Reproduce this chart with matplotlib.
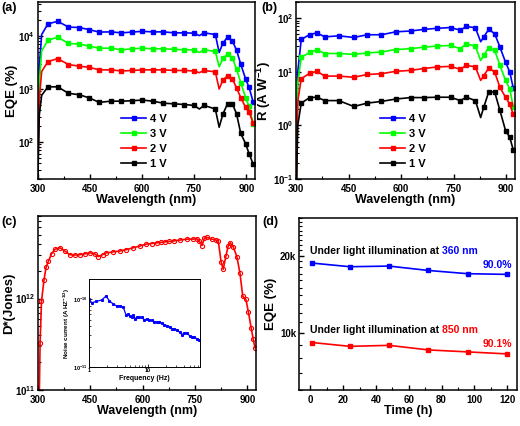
import matplotlib
matplotlib.use("Agg")
import matplotlib.pyplot as plt
from matplotlib.ticker import FixedLocator, NullFormatter, LogLocator, FixedFormatter

plt.rcParams['font.family'] = ['Liberation Sans', 'DejaVu Sans']
plt.rcParams['font.weight'] = 'bold'
plt.rcParams['axes.labelweight'] = 'bold'
plt.rcParams['mathtext.fontset'] = 'custom'
plt.rcParams['mathtext.rm'] = 'Liberation Sans:bold'
plt.rcParams['mathtext.bf'] = 'Liberation Sans:bold'
plt.rcParams['mathtext.it'] = 'Liberation Sans:bold:italic'
plt.rcParams['mathtext.default'] = 'bf'
plt.rcParams['axes.linewidth'] = 1.1
plt.rcParams['xtick.direction'] = 'in'
plt.rcParams['ytick.direction'] = 'in'

# (a) EQE vs wavelength
wl_a = [300, 305, 312, 330, 358, 389, 420, 449, 477, 511, 541, 572, 601, 631, 662,
        693, 722, 750, 765, 779, 811, 822, 833, 846, 860, 872, 884, 898, 908, 920]
eqe_4v = [10, 2570, 10700, 17000, 19000, 14800, 14500, 13200, 11900, 12000, 11500, 11900, 12300, 12000, 12000,
          11500, 11500, 11350, 10200, 11500, 10700, 4900, 7400, 9550, 8100, 5400, 2950, 1550, 1070, 560]
eqe_3v = [10, 1260, 5250, 8300, 9550, 7250, 7080, 6450, 5900, 5900, 5500, 5750, 5900, 5750, 5750,
          5620, 5500, 5500, 4900, 5500, 5130, 2630, 3800, 4570, 3890, 2370, 1320, 690, 470, 215]
eqe_2v = [10, 630, 2140, 3300, 3750, 2900, 2700, 2570, 2300, 2300, 2190, 2240, 2300, 2300, 2300,
          2240, 2240, 2190, 2040, 2240, 2110, 1000, 1480, 1780, 1550, 1050, 690, 450, 365, 225]
eqe_1v = [10, 316, 760, 1100, 1100, 830, 780, 680, 560, 590, 590, 600, 620, 590, 540,
          525, 510, 490, 420, 490, 420, 190, 340, 525, 525, 340, 145, 93, 60, 38]

# (b) responsivity vs wavelength
wl_b = [300, 305, 315, 339, 360, 382, 422, 465, 503, 544, 585, 627, 665, 703, 741,
        769, 786, 812, 827, 836, 850, 867, 882, 898, 910, 920]
r_4v = [0.03, 10, 40, 49.5, 53, 44.7, 46.8, 43.6, 49, 49, 55.6, 57.5, 61.7, 64.6, 66.8,
        59.6, 70, 66, 36.3, 44.7, 61.7, 51.3, 28.8, 15.1, 9.9, 5.0]
r_3v = [0.03, 6.3, 18.6, 22.9, 25.7, 21.9, 21.9, 21.1, 22.4, 23.4, 26, 26.9, 28.8, 30.2, 30.9,
        26.9, 33.5, 29.9, 16.2, 20.4, 28.2, 25.1, 13.2, 6.9, 4.8, 2.2]
r_2v = [0.03, 2.8, 7.4, 9.4, 10.2, 8.3, 8.3, 7.9, 8.9, 9.2, 10.2, 10.6, 11.5, 12.3, 12.6,
        11.1, 13.2, 12.3, 6.9, 8.5, 11.7, 9.9, 5.1, 3.35, 2.5, 1.6]
r_1v = [0.03, 1.0, 2.6, 3.3, 3.35, 2.9, 2.9, 2.25, 2.6, 2.8, 3.1, 3.3, 3.3, 3.35, 3.35,
        2.9, 3.35, 2.9, 1.4, 2.2, 4.2, 4.2, 1.9, 0.8, 0.6, 0.35]

# (c) detectivity
wl_c = [300, 306, 310, 317, 323, 330, 339, 349, 363, 377, 391, 405, 420, 435, 449, 462, 473, 485,
        496, 515, 534, 553, 573, 592, 611, 626, 641, 653, 665, 677, 689, 708, 727, 745, 755, 762,
        770, 777, 784, 798, 810, 817, 825, 831, 839, 845, 851, 860, 870, 879, 887, 896, 903, 911,
        917, 922]
dstar = [1e10, 3.3e11, 9.3e11, 1.58e12, 2.19e12, 2.57e12, 3.09e12, 3.47e12, 3.59e12, 3.31e12, 3.02e12,
         2.99e12, 3.02e12, 3.09e12, 3.16e12, 3.09e12, 2.88e12, 3.02e12, 3.16e12, 3.24e12, 3.31e12,
         3.43e12, 3.59e12, 3.76e12, 3.94e12, 4.0e12, 4.07e12, 4.12e12, 4.17e12, 4.22e12, 4.27e12,
         4.37e12, 4.47e12, 4.47e12, 4.52e12, 4.27e12, 3.8e12, 4.57e12, 4.68e12, 4.47e12, 4.37e12,
         4.22e12, 2.51e12, 2.09e12, 2.95e12, 3.72e12, 4.07e12, 3.67e12, 2.88e12, 1.9e12, 1.06e12,
         9.8e11, 7.2e11, 4.8e11, 3.6e11, 2.9e11]

# (c) inset noise current
freq = [1.0, 1.12, 1.31, 1.64, 1.94, 2.21, 2.58, 3.02, 3.35, 3.81, 4.24, 4.6, 4.95, 5.3, 5.6, 6.0,
        6.43, 7.0, 7.8, 8.6, 9.5, 10.5, 11.5, 12.7, 14.0, 15.5, 17.0, 18.8, 20.8, 23, 25.2, 27.8,
        30.6, 33.8, 37.2, 41, 45.2, 50, 55, 60, 66, 71]
noise = [1.00e-10, 0.89e-10, 0.93e-10, 0.98e-10, 1.12e-10, 0.95e-10, 0.85e-10, 0.79e-10, 0.81e-10,
         0.76e-10, 0.58e-10, 0.60e-10, 0.56e-10, 0.54e-10, 0.58e-10, 0.52e-10, 0.54e-10, 0.54e-10,
         0.54e-10, 0.50e-10, 0.51e-10, 0.49e-10, 0.49e-10, 0.47e-10, 0.46e-10, 0.47e-10, 0.44e-10,
         0.42e-10, 0.41e-10, 0.39e-10, 0.36e-10, 0.37e-10, 0.35e-10, 0.33e-10, 0.30e-10, 0.32e-10,
         0.32e-10, 0.29e-10, 0.28e-10, 0.28e-10, 0.26e-10, 0.25e-10]

# (d) stability
hours = [1, 24, 48, 72, 96, 120]
eqe_360 = [18700, 18100, 18200, 17500, 17000, 16900]
eqe_850 = [9180, 8870, 8950, 8590, 8440, 8290]

W, H = 520, 426
fig = plt.figure(figsize=(W / 100, H / 100), dpi=100)


def box(l, t, r, b):
    return [l / W, 1 - b / H, (r - l) / W, (b - t) / H]


ax_a = fig.add_axes(box(37.5, 2, 255, 179))
ax_b = fig.add_axes(box(296, 2, 515, 179))
ax_c = fig.add_axes(box(38, 216, 256, 390))
ax_d = fig.add_axes(box(299, 218, 517, 390))

labels = ['4 V', '3 V', '2 V', '1 V']
colors = ['#0000ff', '#00ff00', '#ff0000', '#000000']
mk_a = [i for i in range(len(wl_a)) if wl_a[i] not in (300, 305, 312, 765, 822)]
mk_b = [i for i in range(len(wl_b)) if wl_b[i] not in (300, 305, 827)]

for ys, lab, col in zip([eqe_4v, eqe_3v, eqe_2v, eqe_1v], labels, colors):
    ax_a.plot(wl_a, ys, color=col, lw=1.2, marker='s', ms=3, markevery=mk_a, label=lab)
for ys, lab, col in zip([r_4v, r_3v, r_2v, r_1v], labels, colors):
    ax_b.plot(wl_b, ys, color=col, lw=1.2, marker='s', ms=3, markevery=mk_b, label=lab)

ax_c.plot(wl_c, dstar, color='#ff0000', lw=1.2, marker='o', ms=3, mfc='none', mew=0.8)

for ax in (ax_a, ax_b, ax_c):
    ax.set_yscale('log')
    ax.set_xlim(300, 925)
    ax.xaxis.set_major_locator(FixedLocator([300, 450, 600, 750, 900]))
    ax.xaxis.set_minor_locator(FixedLocator([375, 525, 675, 825]))
    ax.set_xlabel('Wavelength (nm)', fontsize=9, labelpad=0)
    ax.tick_params(labelsize=7, pad=2)
    ax.tick_params(axis='x', pad=3.5)
    ax.tick_params(which='major', length=3.5, width=1)
    ax.tick_params(which='minor', length=2, width=0.8)
    ax.yaxis.set_minor_locator(LogLocator(base=10, subs=range(2, 10), numticks=20))
    ax.yaxis.set_minor_formatter(NullFormatter())

ax_a.set_ylim(20, 4.4e4)
ax_a.set_ylabel('EQE (%)', fontsize=9.5, labelpad=0)
ax_b.set_ylim(0.1, 200)
ax_b.set_ylabel('R (A W$^{-1}$)', fontsize=9.5, labelpad=0)
ax_c.set_ylim(1e11, 8e12)
ax_c.set_ylabel('D*(Jones)', fontsize=9.5, labelpad=0)

for ax in (ax_a, ax_b):
    ax.legend(loc='upper left', bbox_to_anchor=(0.35, 0.41), frameon=False, fontsize=8,
              handlelength=2.2, handletextpad=0.4, labelspacing=0.45, borderpad=0.2, numpoints=1)

# inset
ax_in = fig.add_axes(box(89, 279, 200, 367))
ax_in.plot(freq, noise, color='#0000ff', lw=0.9, marker='s', ms=1.2)
ax_in.set_xscale('log')
ax_in.set_yscale('log')
ax_in.set_xlim(1, 75)
ax_in.set_ylim(1e-11, 2e-10)
ax_in.tick_params(labelsize=4, pad=1, length=2, width=0.6)
ax_in.tick_params(which='minor', length=1.2, width=0.5)
ax_in.xaxis.set_major_locator(FixedLocator([1, 10]))
ax_in.xaxis.set_major_formatter(FixedFormatter(['1', '10']))
ax_in.yaxis.set_minor_formatter(NullFormatter())
ax_in.xaxis.set_minor_formatter(NullFormatter())
for s in ax_in.spines.values():
    s.set_linewidth(0.7)
ax_in.set_xlabel('Frequency (Hz)', fontsize=5, labelpad=1)
ax_in.set_ylabel('Noise current (A HZ$^{-1/2}$)', fontsize=4.5, labelpad=1)

# (d)
ax_d.plot(hours, eqe_360, color='#0000ff', lw=1.2, marker='s', ms=3)
ax_d.plot(hours, eqe_850, color='#ff0000', lw=1.2, marker='s', ms=3)
ax_d.set_yscale('log')
ax_d.set_ylim(6000, 28000)
ax_d.set_xlim(-7, 126)
ax_d.yaxis.set_major_locator(FixedLocator([10000, 20000]))
ax_d.yaxis.set_major_formatter(FixedFormatter(['10k', '20k']))
ax_d.yaxis.set_minor_locator(FixedLocator([k * 1000 for k in range(6, 29) if k not in (10, 20)]))
ax_d.yaxis.set_minor_formatter(NullFormatter())
ax_d.xaxis.set_major_locator(FixedLocator([0, 20, 40, 60, 80, 100, 120]))
ax_d.xaxis.set_minor_locator(FixedLocator([10, 30, 50, 70, 90, 110]))
ax_d.tick_params(labelsize=7, pad=2)
ax_d.tick_params(axis='x', pad=3.5)
ax_d.tick_params(which='major', length=3.5, width=1)
ax_d.tick_params(which='minor', length=2, width=0.8)
ax_d.set_xlabel('Time (h)', fontsize=9, labelpad=0)
ax_d.set_ylabel('EQE (%)', fontsize=9.5, labelpad=2)

t1 = ax_d.text(0.05, 0.806, 'Under light illumination at ', transform=ax_d.transAxes,
               fontsize=7.5, va='center', ha='left')
t2 = ax_d.text(0.05, 0.349, 'Under light illumination at ', transform=ax_d.transAxes,
               fontsize=7.5, va='center', ha='left')
fig.canvas.draw()
r = fig.canvas.get_renderer()
inv = ax_d.transAxes.inverted()
x1 = inv.transform(t1.get_window_extent(r))[1][0]
x2 = inv.transform(t2.get_window_extent(r))[1][0]
ax_d.text(x1, 0.806, '360 nm', transform=ax_d.transAxes, fontsize=7.5, va='center', ha='left', color='#0000ff')
ax_d.text(x2, 0.349, '850 nm', transform=ax_d.transAxes, fontsize=7.5, va='center', ha='left', color='#ff0000')
ax_d.text(0.91, 0.726, '90.0%', transform=ax_d.transAxes, fontsize=7.5, va='center', ha='center', color='#0000ff')
ax_d.text(0.91, 0.269, '90.1%', transform=ax_d.transAxes, fontsize=7.5, va='center', ha='center', color='#ff0000')

# panel letters
for txt, x, y in (('(a)', 1, 2), ('(b)', 261, 2), ('(c)', 1, 216), ('(d)', 262, 216)):
    fig.text(x / W, 1 - y / H, txt, fontsize=9, ha='left', va='top')

fig.savefig('out.png', dpi=100)
